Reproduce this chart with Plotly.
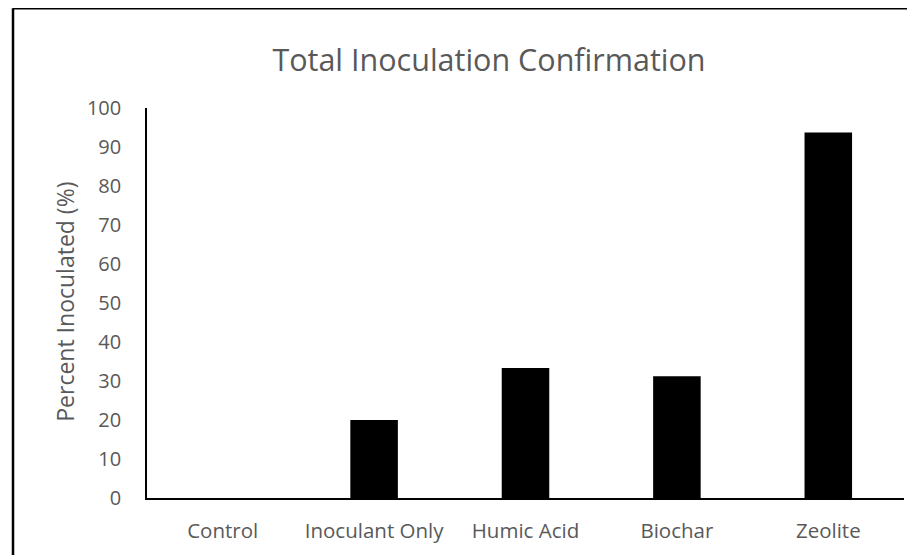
import plotly.graph_objects as go

categories = ["Control", "Inoculant Only", "Humic Acid", "Biochar", "Zeolite"]
values = [0, 20, 33.33, 31.25, 93.75]
y_ticks = [0, 10, 20, 30, 40, 50, 60, 70, 80, 90, 100]

W, H = 915, 555
OFF = 8  # page body margin offset
# target plot area in window pixels: left 147, right 904, top 108, bottom 498.5
L = 147 - OFF
T = 108 - OFF
R = W - (904 - OFF)
B = H - (498.5 - OFF)
pw = W - L - R
ph = H - T - B

FONT = "Open Sans"
GRAY = "#595959"

fig = go.Figure(go.Bar(
    x=categories, y=values,
    marker=dict(color="#000000", line=dict(width=0)),
    width=0.314,
))

def px_x(px):  # window px -> paper
    return (px - OFF - L) / pw

def px_y(py):
    return (H - B - (py - OFF)) / ph

fig.update_layout(
    width=W, height=H,
    margin=dict(l=L, r=R, t=T, b=B, autoexpand=False),
    paper_bgcolor="white", plot_bgcolor="white",
    showlegend=False,
    font=dict(family=FONT, color=GRAY, size=20),
    title=dict(text="Total Inoculation Confirmation", font=dict(family=FONT, size=30.5, color=GRAY),
               x=(489 - OFF) / W, xanchor="center", xref="container",
               y=1 - (60 - OFF) / H, yanchor="middle", yref="container"),
    xaxis=dict(showline=True, linecolor="black", linewidth=2, showgrid=False, ticks="",
               tickfont=dict(size=20.5, color=GRAY), ticklabelstandoff=13, zeroline=False),
    yaxis=dict(range=[0, 100], tickvals=y_ticks, showline=True, linecolor="black", linewidth=1.6,
               showgrid=False, ticks="", zeroline=False,
               tickfont=dict(size=20, color=GRAY), ticklabelstandoff=20),
    annotations=[dict(text="Percent Inoculated (%)", textangle=-90, showarrow=False,
                      xref="paper", yref="paper", x=px_x(65), y=px_y(302),
                      xanchor="center", yanchor="middle", font=dict(size=23, color=GRAY))],
    shapes=[
        dict(type="line", xref="paper", yref="paper", x0=px_x(13), x1=px_x(13),
             y0=px_y(8), y1=px_y(700), line=dict(color="black", width=2.5)),
        dict(type="line", xref="paper", yref="paper", x0=px_x(13), x1=px_x(1100),
             y0=px_y(8), y1=px_y(8), line=dict(color="black", width=2.5)),
    ],
)

fig.write_html("out.html")
